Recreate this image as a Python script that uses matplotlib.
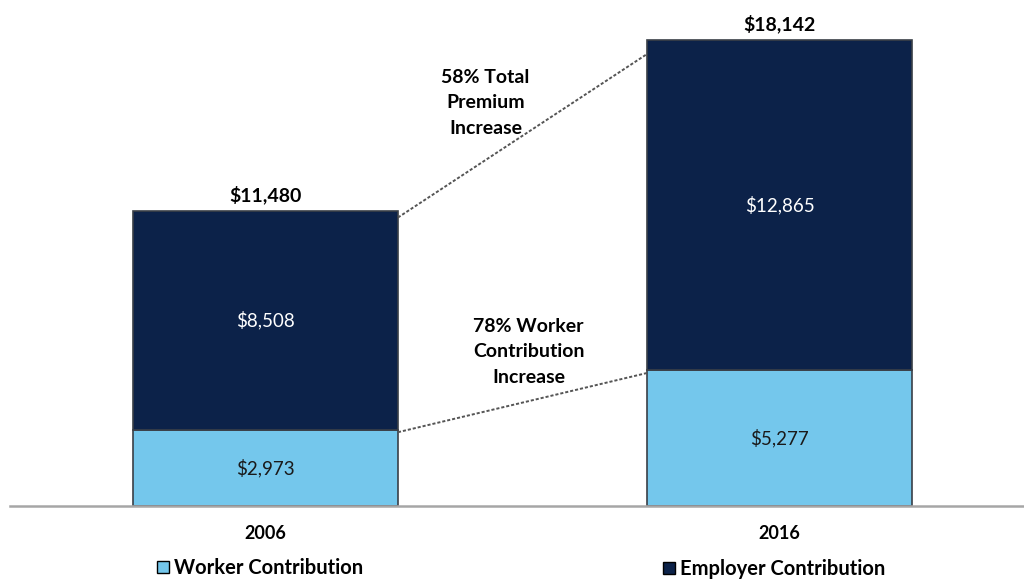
import matplotlib
matplotlib.use("Agg")
import matplotlib.pyplot as plt
from matplotlib.patches import Patch

years = ["2006", "2016"]
worker = [2973, 5277]
employer = [8508, 12865]
totals = [11480, 18142]
annot_total = "58% Total\nPremium\nIncrease"
annot_worker = "78% Worker\nContribution\nIncrease"
series_names = ["Worker Contribution", "Employer Contribution"]

light = "#74C7EC"
dark = "#0C2249"
edge = "#3A3F47"
font = "Lato"

fig = plt.figure(figsize=(10.24, 5.79), dpi=100)
ax = fig.add_axes([10/1024, 73/579, 1014/1024, 506/579])
x = [0, 1]
w = 0.5156
ax.bar(x, worker, width=w, color=light, edgecolor=edge, linewidth=1.2, zorder=2)
ax.bar(x, employer, bottom=worker, width=w, color=dark, edgecolor=edge, linewidth=1.2, zorder=2)

ax.set_xlim(-0.497, 1.4757)
ax.set_ylim(0, 19697)
for s in ["top", "left", "right"]:
    ax.spines[s].set_visible(False)
ax.spines["bottom"].set_color("#A6A6A6")
ax.spines["bottom"].set_linewidth(1.8)
ax.set_yticks([])
ax.set_xticks(x)
ax.set_xticklabels(years, fontsize=13, fontweight="bold", family=font)
ax.tick_params(axis="x", length=0, pad=14)

for i in range(2):
    ax.text(x[i], totals[i] + 280, f"${totals[i]:,}", ha="center", va="bottom",
            fontsize=14, fontweight="bold", family=font, color="black")
    ax.text(x[i], worker[i] / 2, f"${worker[i]:,}", ha="center", va="center",
            fontsize=13.5, family=font, color="#1a1a1a")
    ax.text(x[i], worker[i] + employer[i] / 2, f"${employer[i]:,}", ha="center", va="center",
            fontsize=13.5, family=font, color="white")

# connector lines
ax.plot([x[0] + w/2, x[1] - w/2], [totals[0] - 250, totals[1] - 550],
        ls=(0, (1.6, 1.0)), color="#555555", lw=1.4, zorder=3)
ax.plot([x[0] + w/2, x[1] - w/2], [worker[0] - 100, worker[1] - 100],
        ls=(0, (1.6, 1.0)), color="#555555", lw=1.4, zorder=3)

ax.text(0.428, 15690, annot_total, ha="center", va="center", fontsize=14,
        fontweight="bold", family=font, linespacing=1.6)
ax.text(0.512, 5995, annot_worker, ha="center", va="center", fontsize=14,
        fontweight="bold", family=font, linespacing=1.6)

h1 = [Patch(facecolor=light, edgecolor="black", linewidth=1.0)]
h2 = [Patch(facecolor=dark, edgecolor="black", linewidth=1.0)]
prop = {"family": font, "weight": "bold", "size": 14.5}
fig.legend(h1, [series_names[0]], loc="center left", bbox_to_anchor=(157/1024, 1 - 568/579),
           frameon=False, prop=prop, handlelength=0.6, handleheight=0.6, handletextpad=0.25,
           borderpad=0, borderaxespad=0)
fig.legend(h2, [series_names[1]], loc="center left", bbox_to_anchor=(663/1024, 1 - 569/579),
           frameon=False, prop=prop, handlelength=0.6, handleheight=0.6, handletextpad=0.25,
           borderpad=0, borderaxespad=0)

fig.savefig("out.png", dpi=100)
